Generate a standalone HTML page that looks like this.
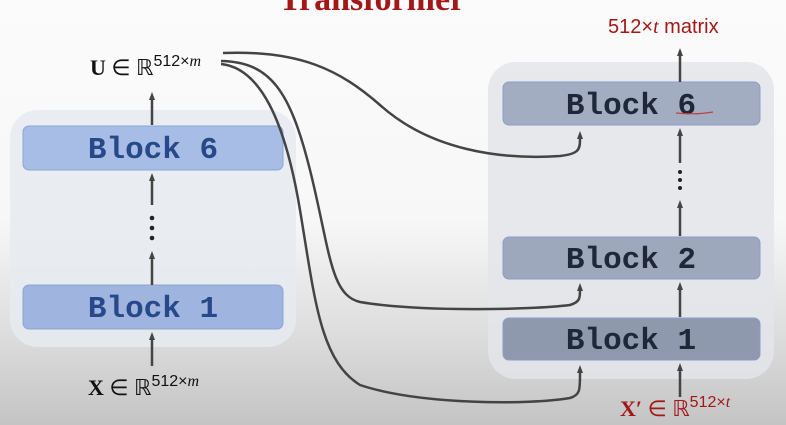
<!DOCTYPE html>
<html><head><style>
html,body{margin:0;padding:0;}
body{width:786px;height:425px;overflow:hidden;background:linear-gradient(#fbfbfb 0px,#f7f7f7 220px,#dedede 330px,#c4c4c4 425px);font-family:"Liberation Sans",sans-serif;}
</style></head><body>
<svg width="786" height="425" viewBox="0 0 786 425" xmlns="http://www.w3.org/2000/svg" style="position:absolute;left:0;top:0">
<defs>
<marker id="a" markerWidth="8" markerHeight="6" refX="4" refY="3" orient="auto" markerUnits="userSpaceOnUse"><path d="M0,0 L8,3 L0,6 z" fill="#444"/></marker>
</defs>
<text x="372" y="10" text-anchor="middle" font-family="Liberation Serif" font-weight="bold" font-size="34" fill="#a31717">Transformer</text>
<rect x="10" y="110" width="286" height="237" rx="28" fill="#e6ebf1" opacity="0.85"/>
<rect x="488" y="62" width="286" height="317" rx="28" fill="#e3e5ea" opacity="0.85"/>
<rect x="23" y="126" width="260" height="44" rx="6" fill="#a7bde5" stroke="#8ba5d6"/>
<text x="153" y="158" text-anchor="middle" font-family="Liberation Mono" font-weight="bold" font-size="31" fill="#27498a">Block 6</text>
<rect x="23" y="285" width="260" height="44" rx="6" fill="#9fb4de" stroke="#8ba5d6"/>
<text x="153" y="317" text-anchor="middle" font-family="Liberation Mono" font-weight="bold" font-size="31" fill="#27498a">Block 1</text>
<rect x="503" y="82" width="257" height="43" rx="6" fill="#a3adc2" stroke="#8b9dc9"/>
<text x="631" y="114" text-anchor="middle" font-family="Liberation Mono" font-weight="bold" font-size="31" fill="#1e2838">Block 6</text>
<path d="M670 113 Q690 115 707 112" stroke="#c04040" stroke-width="1.2" fill="none" transform="translate(6,0)"/>
<rect x="503" y="237" width="257" height="42" rx="6" fill="#9ea8bd" stroke="#8b9dc9"/>
<text x="631" y="268" text-anchor="middle" font-family="Liberation Mono" font-weight="bold" font-size="31" fill="#1e2838">Block 2</text>
<rect x="503" y="318" width="257" height="42" rx="6" fill="#8e99ae" stroke="#8b9dc9"/>
<text x="631" y="349" text-anchor="middle" font-family="Liberation Mono" font-weight="bold" font-size="31" fill="#1e2838">Block 1</text>
<g stroke="#444" stroke-width="2.5" fill="none">
<line x1="152" y1="366" x2="152" y2="336" marker-end="url(#a)"/>
<line x1="152" y1="285" x2="152" y2="255" marker-end="url(#a)"/>
<line x1="152" y1="205" x2="152" y2="177" marker-end="url(#a)"/>
<line x1="152" y1="125" x2="152" y2="96" marker-end="url(#a)"/>
<line x1="680" y1="397" x2="680" y2="367" marker-end="url(#a)"/>
<line x1="680" y1="317" x2="680" y2="286" marker-end="url(#a)"/>
<line x1="680" y1="236" x2="680" y2="204" marker-end="url(#a)"/>
<line x1="680" y1="163" x2="680" y2="132" marker-end="url(#a)"/>
<line x1="680" y1="82" x2="680" y2="52" marker-end="url(#a)"/>
<path d="M223 53 C300 50 340 70 380 105 C430 150 500 160 560 156 C578 154 580 150 580 140 L580 135" marker-end="url(#a)"/>
<path d="M221 61 C270 62 290 90 310 170 C330 250 330 295 360 302 C420 312 530 310 570 305 C580 302 580 298 580 290 L580 287" marker-end="url(#a)"/>
<path d="M221 64 C260 68 285 120 300 210 C315 300 320 360 360 385 C420 405 530 405 570 398 C580 395 580 390 580 375 L580 369" marker-end="url(#a)"/>
</g>
<g fill="#222">
<circle cx="152" cy="218" r="2.3"/><circle cx="152" cy="228" r="2.3"/><circle cx="152" cy="238" r="2.3"/>
<circle cx="680" cy="172" r="2"/><circle cx="680" cy="180" r="2"/><circle cx="680" cy="188" r="2"/>
</g>
<text x="90" y="75" font-family="Liberation Serif" font-size="22" fill="#111"><tspan font-weight="bold">U</tspan> ∈ ℝ<tspan font-size="16" dy="-9" font-family="Liberation Sans">512×<tspan font-style="italic" font-family="Liberation Serif">m</tspan></tspan></text>
<text x="88" y="395" font-family="Liberation Serif" font-size="22" fill="#111"><tspan font-weight="bold">X</tspan> ∈ ℝ<tspan font-size="16" dy="-9" font-family="Liberation Sans">512×<tspan font-style="italic" font-family="Liberation Serif">m</tspan></tspan></text>
<text x="620" y="416" font-family="Liberation Serif" font-size="22" fill="#a31717"><tspan font-weight="bold">X′</tspan> ∈ ℝ<tspan font-size="16" dy="-9" font-family="Liberation Sans">512×<tspan font-style="italic" font-family="Liberation Serif">t</tspan></tspan></text>
<text x="608" y="33" font-family="Liberation Sans" font-size="20" fill="#a31717">512×<tspan font-style="italic" font-family="Liberation Serif">t</tspan> matrix</text>
</svg>
</body></html>
